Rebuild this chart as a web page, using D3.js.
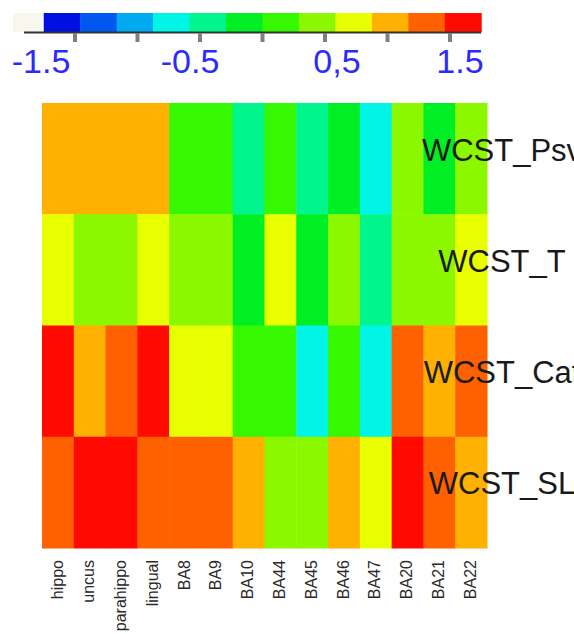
<!DOCTYPE html>
<html>
<head>
<meta charset="utf-8">
<script src="https://cdn.jsdelivr.net/npm/d3@7/dist/d3.min.js"></script>
<style>
  html, body { margin: 0; padding: 0; background: #fff; overflow: hidden; }
  svg { display: block; font-family: "Liberation Sans", Arial, sans-serif; }
</style>
</head>
<body>
<svg id="chart" width="574" height="634"></svg>
<script>
// Brain regions (columns) and WCST measures (rows)
const regions = ["hippo", "uncus", "parahippo", "lingual", "BA8", "BA9", "BA10",
                 "BA44", "BA45", "BA46", "BA47", "BA20", "BA21", "BA22"];
const measures = ["WCST_Psv", "WCST_T", "WCST_Cat", "WCST_SL"];

// Correlation values per measure, one entry per region
const psvValues = [1.0, 1.0, 1.0, 1.0, 0.15, 0.15, -0.45, 0.15, -0.45, -0.15, -0.7, 0.45, -0.15, 0.45];
const tValues   = [0.7, 0.45, 0.45, 0.7, 0.45, 0.45, -0.15, 0.7, -0.15, 0.45, -0.45, 0.45, 0.45, 0.7];
const catValues = [1.6, 1.0, 1.3, 1.6, 0.7, 0.7, 0.15, 0.15, -0.7, 0.15, -0.7, 1.3, 1.0, 1.3];
const slValues  = [1.3, 1.6, 1.6, 1.3, 1.3, 1.3, 1.0, 0.45, 0.45, 1.0, 0.7, 1.6, 1.3, 1.0];

// Colour key
const colorDomain = [-1.75, 1.75];
const palette = ["#0010e0", "#0058f0", "#00aaf0", "#00f5e6", "#00f58c", "#00ee24",
                 "#36f800", "#8cf800", "#e8ff00", "#ffb000", "#ff6000", "#ff0a00"];
const keyTicks = [-1.5, -1, -0.5, 0, 0.5, 1, 1.5];
const keyLabelValues = [-1.5, -0.5, 0.5, 1.5];
const keyLabels = ["-1.5", "-0.5", "0,5", "1.5"];

const rows = [psvValues, tValues, catValues, slValues];
const cells = [];
measures.forEach((m, i) => regions.forEach((r, j) => cells.push({ measure: m, region: r, value: rows[i][j] })));

const svg = d3.select("#chart");

// Discrete colour scale: equal-width bins across the key domain
const step = (colorDomain[1] - colorDomain[0]) / palette.length;
const binEdges = d3.range(palette.length + 1).map(k => colorDomain[0] + k * step);
const color = d3.scaleThreshold().domain(binEdges.slice(1, -1)).range(palette);

// ---- colour key ----
const keyX = d3.scaleLinear().domain([-1.5, 1.5]).range([75, 450]);
const keyTop = 13, keyBottom = 32;
const key = svg.append("g");

key.append("rect")
  .attr("x", 13).attr("y", keyTop).attr("width", keyX(colorDomain[0]) - 13).attr("height", keyBottom - keyTop)
  .attr("fill", "#f7f7ee");

key.selectAll("rect.bin")
  .data(palette)
  .join("rect")
  .attr("class", "bin")
  .attr("x", (d, k) => keyX(binEdges[k]))
  .attr("y", keyTop)
  .attr("width", (d, k) => keyX(binEdges[k + 1]) - keyX(binEdges[k]) + 0.5)
  .attr("height", keyBottom - keyTop)
  .attr("fill", d => d);

key.append("line")
  .attr("x1", 24).attr("x2", keyX(colorDomain[1]))
  .attr("y1", keyBottom + 0.5).attr("y2", keyBottom + 0.5)
  .attr("stroke", "#333").attr("stroke-width", 2);

key.selectAll("rect.tick")
  .data(keyTicks)
  .join("rect")
  .attr("class", "tick")
  .attr("x", d => keyX(d) - 2)
  .attr("y", keyBottom + 1)
  .attr("width", 4).attr("height", 9)
  .attr("fill", "#808080");

// label placement along the key
const keyLabelX = d3.scaleLinear().domain(keyLabelValues).range([41, 190, 337, 460]);
key.selectAll("text")
  .data(keyLabelValues)
  .join("text")
  .attr("x", d => keyLabelX(d))
  .attr("y", 73)
  .attr("text-anchor", "middle")
  .attr("font-size", 34)
  .attr("fill", "#2b2bff")
  .text((d, i) => keyLabels[i]);

// ---- heatmap ----
const x = d3.scaleBand().domain(regions).range([42, 487]);
const y = d3.scaleBand().domain(measures).range([103, 548]);

svg.append("g")
  .selectAll("rect")
  .data(cells)
  .join("rect")
  .attr("x", d => x(d.region))
  .attr("y", d => y(d.measure))
  .attr("width", x.bandwidth() + 0.5)
  .attr("height", y.bandwidth() + 0.5)
  .attr("fill", d => color(d.value));

// column labels, rotated
svg.append("g")
  .selectAll("text")
  .data(regions)
  .join("text")
  .attr("transform", d => `translate(${x(d) + x.bandwidth() / 2 - 1},560) rotate(-90)`)
  .attr("dy", "0.35em")
  .attr("text-anchor", "end")
  .attr("font-size", 16)
  .attr("fill", "#2a2a2a")
  .text(d => d);

// row labels
svg.append("g")
  .selectAll("text")
  .data(measures)
  .join("text")
  .attr("x", 502)
  .attr("y", d => y(d) + y.bandwidth() / 2 + 2)
  .attr("text-anchor", "middle")
  .attr("font-size", 31)
  .attr("fill", "#1a1a1a")
  .text(d => d);
</script>
</body>
</html>
